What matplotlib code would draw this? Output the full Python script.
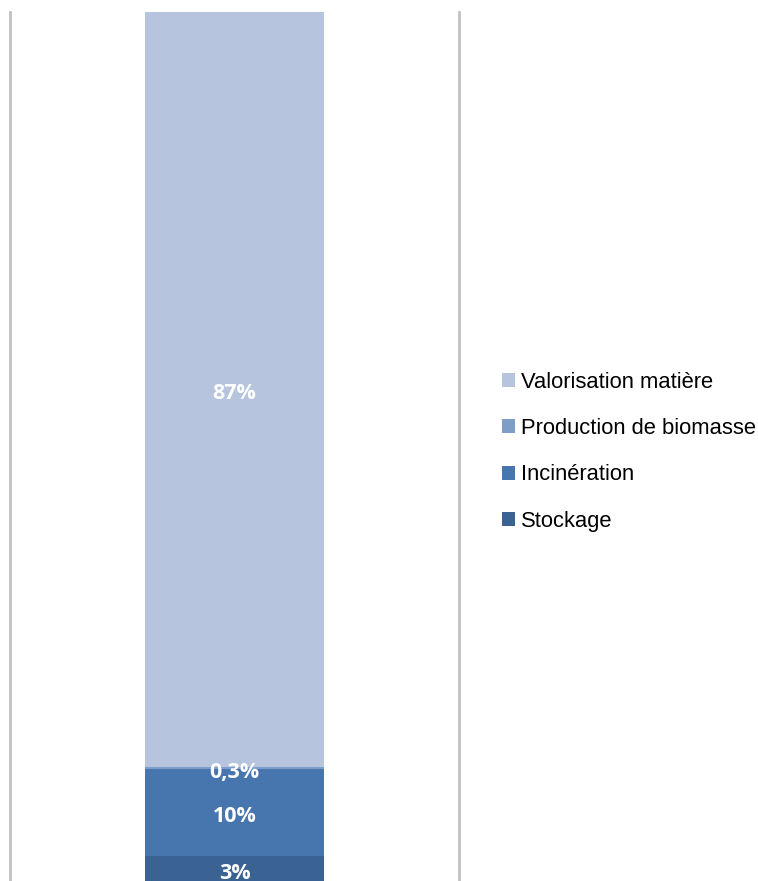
import matplotlib
matplotlib.use("Agg")
import matplotlib.pyplot as plt
from matplotlib.patches import Patch

categories = ["Stockage", "Incinération", "Production de biomasse", "Valorisation matière"]
values = [3, 10, 0.3, 87]
labels = ["3%", "10%", "0,3%", "87%"]
colors = ["#3A6293", "#4776AF", "#7E9DC9", "#B6C4DE"]

W, H = 758, 881
fig = plt.figure(figsize=(W / 100, H / 100), dpi=100)
ax = fig.add_axes([10 / W, -1 / H, 449 / W, 870 / H])

bottom = 0
for cat, v, lab, c in zip(categories, values, labels, colors):
    ax.bar(0, v, width=0.4, bottom=bottom, color=c, label=cat)
    ax.annotate(lab, (0, bottom + v / 2), xytext=(0, -3), textcoords="offset points",
                ha="center", va="center", color="white",
                fontsize=15.5, fontweight="bold", family=["Open Sans", "DejaVu Sans"])
    bottom += v

ax.set_xlim(-0.5, 0.5)
ax.set_ylim(0, sum(values))
ax.set_xticks([])
ax.set_yticks([])
for s in ["top", "bottom"]:
    ax.spines[s].set_visible(False)
for s in ["left", "right"]:
    ax.spines[s].set_color("#C0C0C0")
    ax.spines[s].set_linewidth(2)

handles = [Patch(facecolor=c, edgecolor="none") for c in colors][::-1]
fig.legend(handles, categories[::-1], loc="upper left",
           bbox_to_anchor=(502 / W, 1 - 371.5 / H), frameon=False,
           prop={"family": "Liberation Sans", "size": 15.8},
           handlelength=0.6, handleheight=0.6, handletextpad=0.28,
           labelspacing=1.16, borderpad=0, borderaxespad=0)

fig.savefig("out.png", dpi=100)
